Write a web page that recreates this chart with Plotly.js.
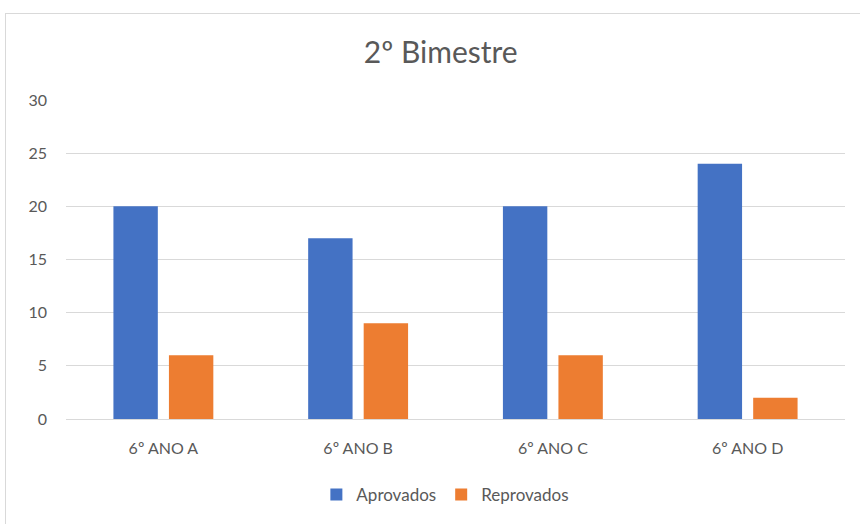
<!DOCTYPE html>
<html>
<head>
<meta charset="utf-8">
<script src="https://cdn.plot.ly/plotly-3.0.1.min.js"></script>
<style>
html,body{margin:0;padding:0;background:#fff;}
#wrap{position:relative;width:860px;height:524px;}
#chart{width:860px;height:524px;}
#frame{position:absolute;left:5px;top:13px;width:870px;height:530px;border:1px solid #d9d9d9;pointer-events:none;}
</style>
</head>
<body>
<div id="wrap"><div id="chart"></div><div id="frame"></div></div>
<script>
const categories = ["6º ANO A", "6º ANO B", "6º ANO C", "6º ANO D"];
const aprovados = [20, 17, 20, 24];
const reprovados = [6, 9, 6, 2];
const seriesNames = ["Aprovados", "Reprovados"];
const yTicks = [0, 5, 10, 15, 20, 25, 30];

const font = "Lato, 'Liberation Sans Narrow', sans-serif";
const data = [
  {type: "bar", x: categories, y: aprovados, name: seriesNames[0], marker: {color: "#4472C4"}, hoverinfo: "y"},
  {type: "bar", x: categories, y: reprovados, name: seriesNames[1], marker: {color: "#ED7D31"}, hoverinfo: "y"}
];
const layout = {
  width: 860, height: 524,
  margin: {l: 66, r: 15, t: 100, b: 104},
  paper_bgcolor: "#fff", plot_bgcolor: "#fff",
  font: {family: font, color: "#595959", size: 16},
  title: {text: "2º Bimestre", font: {family: font, size: 30, color: "#595959"}, x: 0.481, xanchor: "center", y: 1 - 52/524, yanchor: "middle", yref: "container", xref: "paper"},
  barmode: "group", bargap: 0.43, bargroupgap: 0.2,
  xaxis: {showgrid: false, showline: true, linecolor: "#d9d9d9", linewidth: 1, ticks: "", tickfont: {size: 16, color: "#595959"}, ticklabelstandoff: 15, fixedrange: true},
  yaxis: {range: [0, 30], tickvals: yTicks, showgrid: true, gridcolor: "#d9d9d9", gridwidth: 1, zeroline: false, showline: false, ticks: "", tickfont: {size: 16, color: "#595959"}, ticklabelstandoff: 18, fixedrange: true},
  showlegend: true,
  legend: {orientation: "h", x: 0.487, xanchor: "center", y: -0.234, yanchor: "middle", font: {size: 17, color: "#595959"}, itemwidth: 30, tracegroupgap: 0},
};
Plotly.newPlot("chart", data, layout, {displayModeBar: false, staticPlot: true});
</script>
</body>
</html>
